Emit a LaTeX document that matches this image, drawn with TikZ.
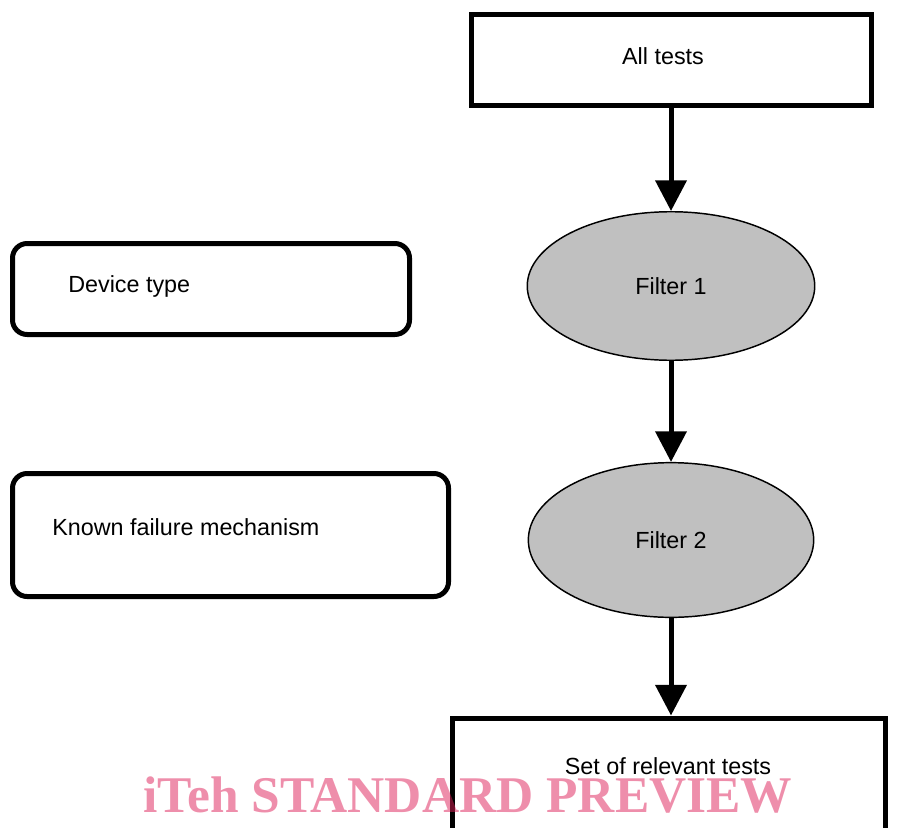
\documentclass[tikz,border=0pt]{standalone}
\usepackage{fontspec}
\setmainfont{Liberation Sans}
\newfontfamily\wmfont{Liberation Serif}
\usetikzlibrary{shapes.geometric,arrows.meta,positioning}
\definecolor{filtgray}{RGB}{192,192,192}
\definecolor{wmpink}{RGB}{222,30,87}
\begin{document}
\begin{tikzpicture}[x=0.75pt,y=-0.75pt,
        testbox/.style={draw,line width=3.75pt,minimum width=#1,inner sep=0pt},
        rbox/.style={draw,line width=3.75pt,rounded corners=11pt,inner sep=0pt},
        filt/.style={ellipse,draw,fill=filtgray,line width=1.1pt,inner sep=0pt},
        lbl/.style={inner sep=0pt,font=\fontsize{17.5}{21}\selectfont},
        flow/.style={line width=3.75pt,-{Triangle[length=23pt,width=23pt]}}]
\useasboundingbox (0,0) rectangle (905,827);
\clip (0,0) rectangle (905,827);

\node[testbox=300pt,minimum height=68.25pt] (all) at (671,60) {};
\node[lbl] (alltxt) at (663,56) {All tests};
\node[filt,minimum width=215.6pt,minimum height=111.4pt,lbl] (f1) at (671,286) {Filter 1};
\node[filt,minimum width=214pt,minimum height=116pt,lbl] (f2) at (671,540) {Filter 2};
\node[testbox=324.75pt,minimum height=120pt,anchor=north] (out) at (669,715.5) {};
\node[lbl] (outtxt) at (668,766) {Set of relevant tests};

% inputs to the filters
\node[rbox,minimum width=297.75pt,minimum height=68.25pt] (dev) at (211,289) {};
\node[lbl,anchor=west] (devtxt) at (68,286) {Device type};
\node[rbox,minimum width=327pt,minimum height=92.25pt] (kfm) at (230.5,535) {};
\node[lbl,anchor=west] (kfmtxt) at (52,527) {Known failure mechanism};

\draw[flow] (all.south) -- (f1.north);
\draw[flow] (f1.south) -- (f2.north);
\draw[flow] (f2.south) -- (f2.south |- out.north);

\node[anchor=base west,inner sep=0pt,text=wmpink,opacity=0.5,
    font=\wmfont\bfseries\fontsize{38.6}{40}\selectfont] (wm) at (143,812) {iTeh STANDARD PREVIEW};
\end{tikzpicture}
\end{document}
